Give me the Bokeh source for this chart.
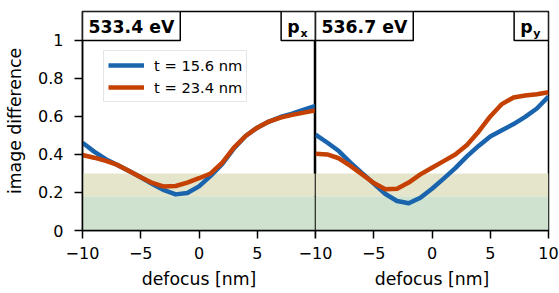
from bokeh.plotting import figure
from bokeh.layouts import row
from bokeh.models import (Range1d, FixedTicker, CustomJSTickFormatter, Label,
                          BoxAnnotation, ColumnDataSource)
from bokeh.embed import file_html
from bokeh.resources import INLINE

# ---- data ----
defocus = [-10, -9, -8, -7, -6, -5, -4, -3, -2, -1, 0, 1, 2, 3, 4, 5, 6, 7, 8, 9, 10]

px_t156 = [0.462, 0.415, 0.375, 0.345, 0.313, 0.280, 0.245, 0.212, 0.190, 0.197, 0.232,
           0.287, 0.350, 0.432, 0.497, 0.541, 0.573, 0.597, 0.615, 0.636, 0.655]
px_t234 = [0.397, 0.383, 0.366, 0.345, 0.313, 0.280, 0.250, 0.231, 0.234, 0.252, 0.275,
           0.300, 0.357, 0.436, 0.497, 0.541, 0.573, 0.594, 0.608, 0.620, 0.632]
py_t156 = [0.505, 0.463, 0.418, 0.357, 0.302, 0.247, 0.192, 0.155, 0.143, 0.172, 0.220,
           0.273, 0.328, 0.390, 0.445, 0.495, 0.527, 0.560, 0.598, 0.642, 0.705]
py_t234 = [0.404, 0.400, 0.380, 0.340, 0.295, 0.250, 0.217, 0.220, 0.252, 0.295, 0.330,
           0.365, 0.400, 0.450, 0.520, 0.600, 0.665, 0.700, 0.710, 0.717, 0.727]

series_labels = ["t = 15.6 nm", "t = 23.4 nm"]
panel_energies = ["533.4 eV", "536.7 eV"]
panel_orbitals = ["x", "y"]
band_green = (0.0, 0.18)
band_beige = (0.18, 0.30)
y_ticks = [0, 0.2, 0.4, 0.6, 0.8, 1.0]
x_ticks = [-10, -5, 0, 5, 10]

BLUE = "#1a64ad"
ORANGE = "#c54102"
FONT = "DejaVu Sans"
TICK_FS = "16px"
LABEL_FS = "17.3px"
LEGEND_FS = "14.7px"
Y_TOP = 1.152
H = 293


def make_panel(ys, energy, orb, first):
    if first:
        p = figure(width=315, height=H, output_backend="svg", toolbar_location=None,
                   min_border_left=82, min_border_right=0, min_border_top=11,
                   min_border_bottom=H - 11 - 219)
    else:
        p = figure(width=264, height=H, output_backend="svg", toolbar_location=None,
                   min_border_left=20, min_border_right=11, min_border_top=11,
                   min_border_bottom=H - 11 - 219)
        p.margin = (0, 0, 0, -20)
        p.border_fill_color = None
    p.x_range = Range1d(-10, 10)
    p.y_range = Range1d(0, Y_TOP)
    p.grid.visible = False
    p.outline_line_color = "black"
    p.outline_line_width = 1.5

    p.add_layout(BoxAnnotation(bottom=band_green[0], top=band_green[1],
                               fill_color="#cfe2cf", fill_alpha=1, line_color=None, level="underlay"))
    p.add_layout(BoxAnnotation(bottom=band_beige[0], top=band_beige[1],
                               fill_color="#e5e5cc", fill_alpha=1, line_color=None, level="underlay"))

    src = ColumnDataSource(dict(x=defocus, a=ys[0], b=ys[1]))
    p.line("x", "a", source=src, color=BLUE, line_width=4.5, legend_label=series_labels[0],
           line_join="round")
    p.line("x", "b", source=src, color=ORANGE, line_width=4.5, legend_label=series_labels[1],
           line_join="round")

    # x axis
    xa = p.xaxis[0]
    xa.ticker = FixedTicker(ticks=x_ticks)
    hide10 = "true" if first else "false"
    xa.formatter = CustomJSTickFormatter(code=
        "if (%s && tick == 10) return '';"
        "return tick < 0 ? '\\u2212' + Math.abs(tick) : String(tick);" % hide10)
    xa.axis_label = "defocus [nm]"
    # y axis
    ya = p.yaxis[0]
    ya.ticker = FixedTicker(ticks=y_ticks)
    ya.formatter = CustomJSTickFormatter(code=
        "if (Math.abs(tick) < 1e-9) return '0'; if (Math.abs(tick-1) < 1e-9) return '1';"
        "return tick.toFixed(1);")
    ya.axis_label = "image difference"
    for ax in (xa, ya):
        ax.axis_line_width = 1.5
        ax.axis_line_color = "black"
        ax.major_tick_line_width = 1.5
        ax.major_tick_line_color = "black"
        ax.major_tick_in = 0
        ax.major_tick_out = 8
        ax.minor_tick_line_color = None
        ax.major_label_text_font = FONT
        ax.major_label_text_font_size = TICK_FS
        ax.major_label_text_color = "black"
        ax.axis_label_text_font = FONT
        ax.axis_label_text_font_size = LABEL_FS
        ax.axis_label_text_font_style = "normal"
        ax.axis_label_text_color = "black"
    xa.major_label_standoff = 8
    xa.axis_label_standoff = 7
    ya.major_label_standoff = 11
    ya.axis_label_standoff = 10
    if not first:
        ya.visible = False

    # panel labels
    p.add_layout(Label(x=-10, y=Y_TOP, text=energy, anchor="top_left",
                       text_font=FONT, text_font_size="17.3px", text_font_style="bold",
                       text_color="black", background_fill_color="white",
                       border_line_color="black", border_line_width=1.5,
                       padding=dict(left=6, right=6, top=5, bottom=4)))
    p.add_layout(Label(x=10, y=Y_TOP, text="p", anchor="top_right",
                       text_font=FONT, text_font_size="17.3px", text_font_style="bold",
                       text_color="black", background_fill_color="white",
                       border_line_color="black", border_line_width=1.5,
                       padding=dict(left=6, right=16, top=5, bottom=4)))
    p.add_layout(Label(x=10, y=Y_TOP, text=orb, anchor="top_right",
                       x_offset=-8, y_offset=-15,
                       text_font=FONT, text_font_size="11px", text_font_style="bold",
                       text_color="black"))

    lg = p.legend[0]
    if first:
        lg.location = (21, 128)
        lg.label_text_font = FONT
        lg.label_text_font_size = LEGEND_FS
        lg.label_text_color = "black"
        lg.glyph_width = 36
        lg.glyph_height = 20
        lg.label_height = 20
        lg.label_standoff = 10
        lg.spacing = 2
        lg.padding = 4
        lg.margin = 0
        lg.border_line_color = "#cccccc"
        lg.border_line_width = 1.5
    else:
        lg.visible = False
    return p


left = make_panel((px_t156, px_t234), panel_energies[0], panel_orbitals[0], True)
right = make_panel((py_t156, py_t234), panel_energies[1], panel_orbitals[1], False)

layout = row(left, right)
open("out.html", "w").write(file_html(layout, INLINE))
